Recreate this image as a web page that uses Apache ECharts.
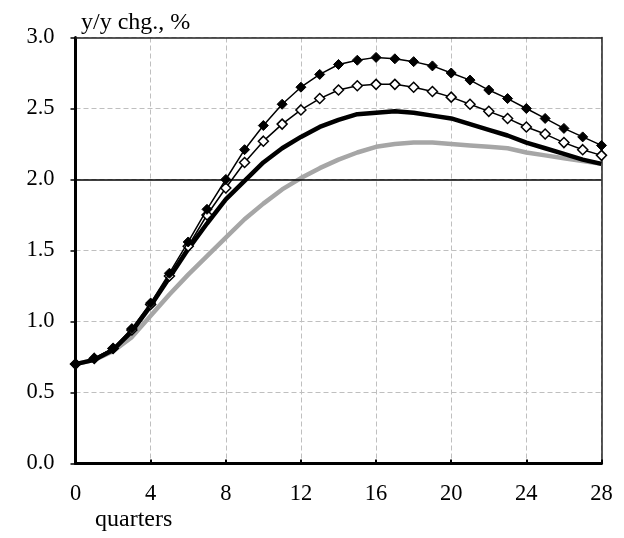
<!DOCTYPE html>
<html>
<head>
<meta charset="utf-8">
<script src="https://cdn.jsdelivr.net/npm/echarts@6/dist/echarts.min.js"></script>
<style>
html,body{margin:0;padding:0;background:#fff;}
#chart{width:624px;height:538px;}
</style>
</head>
<body>
<div id="chart"></div>
<script>
var quarters = [0,1,2,3,4,5,6,7,8,9,10,11,12,13,14,15,16,17,18,19,20,21,22,23,24,25,26,27,28];
var filledDiamond = [0.70,0.74,0.81,0.95,1.13,1.34,1.56,1.79,2.00,2.21,2.38,2.53,2.65,2.74,2.81,2.84,2.86,2.85,2.83,2.80,2.75,2.70,2.63,2.57,2.50,2.43,2.36,2.30,2.24];
var openDiamond = [0.70,0.74,0.81,0.94,1.12,1.32,1.53,1.75,1.94,2.12,2.27,2.39,2.49,2.57,2.63,2.66,2.67,2.67,2.65,2.62,2.58,2.53,2.48,2.43,2.37,2.32,2.26,2.21,2.17];
var thickBlack = [0.70,0.73,0.80,0.93,1.11,1.31,1.51,1.69,1.86,1.99,2.12,2.22,2.30,2.37,2.42,2.46,2.47,2.48,2.47,2.45,2.43,2.39,2.35,2.31,2.26,2.22,2.18,2.14,2.11];
var thickGray = [0.70,0.73,0.79,0.89,1.04,1.19,1.33,1.46,1.59,1.72,1.83,1.93,2.01,2.08,2.14,2.19,2.23,2.25,2.26,2.26,2.25,2.24,2.23,2.22,2.19,2.17,2.15,2.13,2.11];
var refLevel = 2.0;
var yAxisTitle = 'y/y chg., %';
var xAxisTitle = 'quarters';

function pairs(arr){ return quarters.map(function(q,i){ return [q, arr[i]]; }); }

var FONT = '"Liberation Serif", "Times New Roman", serif';
var chart = echarts.init(document.getElementById('chart'), null, {renderer:'canvas'});
chart.setOption({
  animation: false,
  backgroundColor: '#fff',
  grid: {left: 75.5, top: 37.5, right: 22.5, bottom: 74.5},
  graphic: [
    {type: 'text', left: 81, top: 11, style: {text: yAxisTitle, font: '24px ' + FONT, fill: '#000'}},
    {type: 'text', left: 95, top: 508, style: {text: xAxisTitle, font: '24px ' + FONT, fill: '#000'}}
  ],
  xAxis: [{
    type: 'value', min: 0, max: 28, interval: 4,
    axisLine: {show: true, onZero: false, lineStyle: {color: '#000', width: 3}},
    axisTick: {show: true, inside: true, length: 4, lineStyle: {color: '#000', width: 2}},
    splitLine: {show: true, lineStyle: {color: '#bfbfbf', type: [5,3], width: 1}},
    axisLabel: {fontFamily: FONT, fontSize: 22.5, color: '#000', margin: 19}
  }, {
    type: 'value', min: 0, max: 28, interval: 4, position: 'top',
    axisLine: {show: true, onZero: false, lineStyle: {color: '#222', width: 1.5}},
    axisTick: {show: false}, axisLabel: {show: false}, splitLine: {show: false}
  }],
  yAxis: [{
    type: 'value', min: 0, max: 3, interval: 0.5,
    axisLine: {show: true, onZero: false, lineStyle: {color: '#000', width: 3}},
    axisTick: {show: true, inside: false, length: 5, lineStyle: {color: '#000', width: 1.5}},
    splitLine: {show: true, lineStyle: {color: '#bfbfbf', type: [5,3], width: 1}},
    axisLabel: {fontFamily: FONT, fontSize: 22.5, color: '#000', margin: 21, formatter: function(v){ return v.toFixed(1); }}
  }, {
    type: 'value', min: 0, max: 3, interval: 0.5, position: 'right',
    axisLine: {show: true, onZero: false, lineStyle: {color: '#222', width: 1.5}},
    axisTick: {show: false}, axisLabel: {show: false}, splitLine: {show: false}
  }],
  series: [
    {type: 'line', data: pairs(thickGray), showSymbol: false, symbol: 'none', lineStyle: {color: '#a6a6a6', width: 4.5}, z: 2,
     markLine: {silent: true, symbol: ['none','none'], label: {show: false}, lineStyle: {color: '#000', type: 'solid', width: 1.5}, data: [{yAxis: refLevel}]}},
    {type: 'line', data: pairs(thickBlack), symbol: 'none', lineStyle: {color: '#000', width: 4.5}, z: 3},
    {type: 'line', data: pairs(openDiamond), symbol: 'diamond', symbolSize: 10, lineStyle: {color: '#000', width: 1.5}, itemStyle: {color: '#fff', borderColor: '#000', borderWidth: 1.5}, z: 4},
    {type: 'line', data: pairs(filledDiamond), symbol: 'diamond', symbolSize: 10, lineStyle: {color: '#000', width: 1.5}, itemStyle: {color: '#000', borderColor: '#000', borderWidth: 1}, z: 5}
  ]
});
</script>
</body>
</html>
